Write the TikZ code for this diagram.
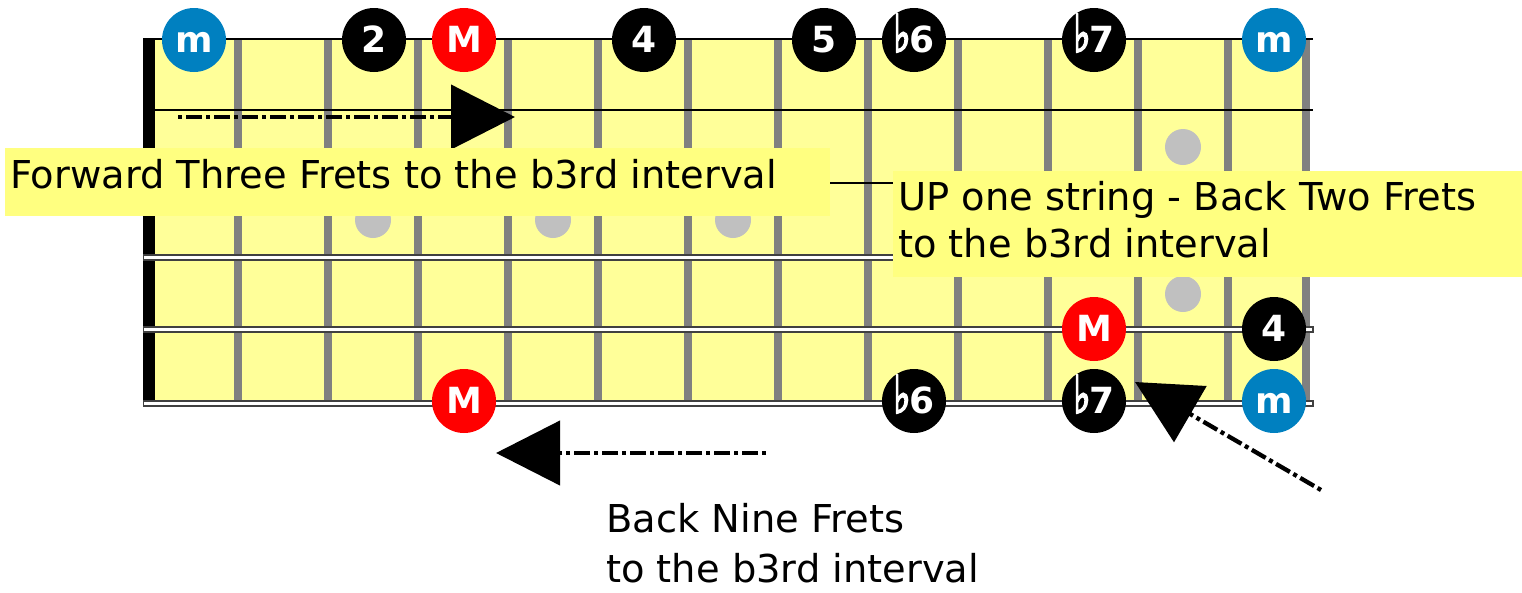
\documentclass[tikz,border=0pt]{standalone}
\usepackage{fontspec}
\setmainfont{DejaVu Sans}
\newfontfamily\notefont{DejaVu Sans Bold}
\newfontfamily\flatfont{DejaVu Sans}[FakeBold=4]
\newcommand{\flt}{\scalebox{1.0}[1.45]{\flatfont ♭}\kern-1pt}
\usetikzlibrary{arrows.meta}
\definecolor{board}{HTML}{FFFF99}
\definecolor{boxy}{HTML}{FFFF80}
\definecolor{fretc}{HTML}{808080}
\definecolor{dotc}{HTML}{C0C0C0}
\definecolor{wound}{HTML}{404040}
\definecolor{noteblue}{HTML}{0080C0}
\definecolor{notered}{HTML}{FF0000}
\begin{document}
\begin{tikzpicture}[x=1pt,y=-1pt,
  note/.style={circle,minimum size=64pt,inner sep=0pt,text=white,
    font=\notefont\fontsize{36}{40}\selectfont,text height=24pt,text depth=0pt},
  nb/.style={note,fill=noteblue},
  nr/.style={note,fill=notered},
  nk/.style={note,fill=black},
  lbl/.style={font=\fontsize{38.4}{46}\selectfont,inner sep=0pt,anchor=base west},
  arr/.style={line width=4.3pt,line cap=butt,dash pattern=on 4pt off 4pt on 16pt off 4pt,
    -{Triangle[length=64pt,width=64pt]}},
  fret/.style={fretc,line width=8pt},
  thinstring/.style={black,line width=2pt},
  woundout/.style={wound,line width=7pt},
  woundin/.style={white,line width=3pt},
  inlay/.style={dotc}
]
\useasboundingbox (0,0) rectangle (1522,592);
% board
\fill[board] (143,38) rectangle (1310,403);
% inlays
\foreach \x/\y in {373/220,553/220,733/220,1183/147,1183/294}
  \fill[inlay] (\x,\y) circle[radius=18pt];
% frets
\foreach \x in {238,328,...,1228}
  \draw[fret] (\x,39) -- (\x,407);
\draw[fret] (1306,39) -- (1306,407);
% nut
\fill[black] (143,38) rectangle (155,403);
% strings
\foreach \y in {39,110,183}
  \draw[thinstring] (143,\y) -- (1313,\y);
\foreach \y in {257,329,403}{
  \draw[woundout] (143,\y) -- (1314,\y);
  \draw[woundin] (144,\y) -- (1312,\y);
}
% arrows
\coordinate (fa) at (178,117);
\coordinate (fb) at (515,117);
\draw[arr] (fa) -- (fb);
\coordinate (ba) at (766,453);
\coordinate (bb) at (496,453);
\draw[arr] (ba) -- (bb);
\coordinate (da) at (1321,490);
\coordinate (db) at (1135,382);
\draw[arr] (da) -- (db);
% boxes and labels
\fill[boxy] (5,148) rectangle (830,216);
\node[lbl] (t1) at (10,188) {Forward Three Frets to the b3rd interval};
\fill[boxy] (893,171) rectangle (1522,277);
\node[lbl] (t2a) at (898,210) {UP one string - Back Two Frets};
\node[lbl] (t2b) at (898,257) {to the b3rd interval};
\node[lbl] (t3a) at (606,532) {Back Nine Frets};
\node[lbl] (t3b) at (606,582) {to the b3rd interval};
% notes
\node[nb] (n1) at (194,40) {m};
\node[nk] (n2) at (374,40) {2};
\node[nr] (n3) at (464,40) {M};
\node[nk] (n4) at (644,40) {4};
\node[nk] (n5) at (824,40) {5};
\node[nk] (n6) at (914,40) {\flt 6};
\node[nk] (n7) at (1094,40) {\flt 7};
\node[nb] (n8) at (1274,40) {m};
\node[nr] (n9) at (1094,329) {M};
\node[nk] (n10) at (1274,329) {4};
\node[nr] (n11) at (464,401) {M};
\node[nk] (n12) at (914,401) {\flt 6};
\node[nk] (n13) at (1094,401) {\flt 7};
\node[nb] (n14) at (1274,401) {m};
\end{tikzpicture}
\end{document}
